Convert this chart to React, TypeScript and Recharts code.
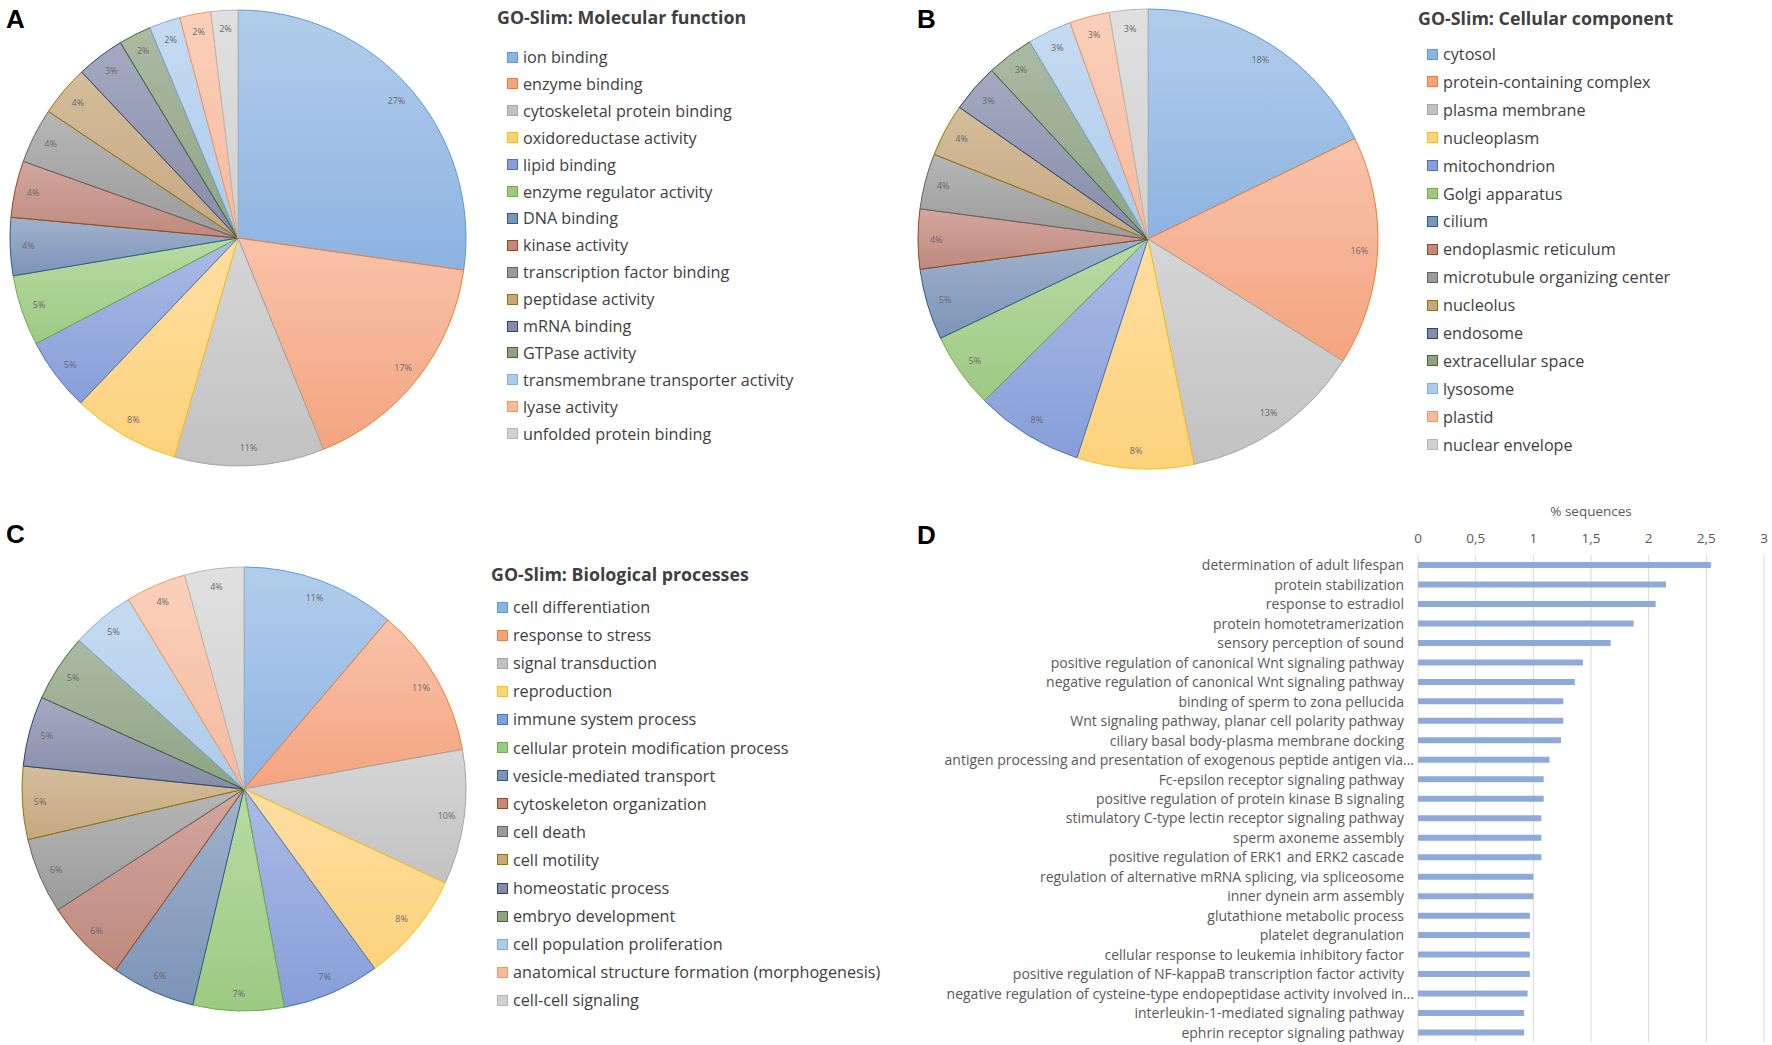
import { PieChart, Pie, Cell, Legend, BarChart, Bar, XAxis, YAxis, CartesianGrid } from 'recharts'

// GO-Slim categories (share of sequences, %)
const MF_TERMS = [
	'ion binding',
	'enzyme binding',
	'cytoskeletal protein binding',
	'oxidoreductase activity',
	'lipid binding',
	'enzyme regulator activity',
	'DNA binding',
	'kinase activity',
	'transcription factor binding',
	'peptidase activity',
	'mRNA binding',
	'GTPase activity',
	'transmembrane transporter activity',
	'lyase activity',
	'unfolded protein binding',
]
const MF_VALUES = [27.2, 16.6, 10.6, 7.6, 5.2, 5.0, 4.1, 4.0, 3.9, 3.6, 3.4, 2.3, 2.2, 2.2, 1.9]

const CC_TERMS = [
	'cytosol',
	'protein-containing complex',
	'plasma membrane',
	'nucleoplasm',
	'mitochondrion',
	'Golgi apparatus',
	'cilium',
	'endoplasmic reticulum',
	'microtubule organizing center',
	'nucleolus',
	'endosome',
	'extracellular space',
	'lysosome',
	'plastid',
	'nuclear envelope',
]
const CC_VALUES = [17.8, 16.1, 12.9, 8.2, 7.6, 5.3, 5.0, 4.2, 3.9, 3.7, 3.4, 3.3, 3.1, 2.8, 2.7]

const BP_TERMS = [
	'cell differentiation',
	'response to stress',
	'signal transduction',
	'reproduction',
	'immune system process',
	'cellular protein modification process',
	'vesicle-mediated transport',
	'cytoskeleton organization',
	'cell death',
	'cell motility',
	'homeostatic process',
	'embryo development',
	'cell population proliferation',
	'anatomical structure formation (morphogenesis)',
	'cell-cell signaling',
]
const BP_VALUES = [11.2, 10.9, 9.8, 8.0, 7.1, 6.6, 6.1, 6.0, 5.5, 5.3, 5.1, 4.9, 4.6, 4.4, 4.3]

const TOP_TERMS = [
	'determination of adult lifespan',
	'protein stabilization',
	'response to estradiol',
	'protein homotetramerization',
	'sensory perception of sound',
	'positive regulation of canonical Wnt signaling pathway',
	'negative regulation of canonical Wnt signaling pathway',
	'binding of sperm to zona pellucida',
	'Wnt signaling pathway, planar cell polarity pathway',
	'ciliary basal body-plasma membrane docking',
	'antigen processing and presentation of exogenous peptide antigen via…',
	'Fc-epsilon receptor signaling pathway',
	'positive regulation of protein kinase B signaling',
	'stimulatory C-type lectin receptor signaling pathway',
	'sperm axoneme assembly',
	'positive regulation of ERK1 and ERK2 cascade',
	'regulation of alternative mRNA splicing, via spliceosome',
	'inner dynein arm assembly',
	'glutathione metabolic process',
	'platelet degranulation',
	'cellular response to leukemia inhibitory factor',
	'positive regulation of NF-kappaB transcription factor activity',
	'negative regulation of cysteine-type endopeptidase activity involved in…',
	'interleukin-1-mediated signaling pathway',
	'ephrin receptor signaling pathway',
]
const TOP_PCT = [
	2.54, 2.15, 2.06, 1.87, 1.67, 1.43, 1.36, 1.26, 1.26, 1.24, 1.14, 1.09, 1.09, 1.07, 1.07, 1.07, 1.0, 1.0, 0.97,
	0.97, 0.97, 0.97, 0.95, 0.92, 0.92,
]
const PCT_TICKS = [0, 0.5, 1, 1.5, 2, 2.5, 3]

// office palette: [gradient top, gradient bottom, outline]
const PALETTE = [
	['#b2cdeb', '#8db3e2', '#5b9bd5'],
	['#f8c3ab', '#f4a47f', '#ed7d31'],
	['#d6d6d6', '#c2c2c2', '#a5a5a5'],
	['#fedfa2', '#fdd27c', '#ffc000'],
	['#aabbe6', '#879ed8', '#4472c4'],
	['#b8daa3', '#9dca82', '#70ad47'],
	['#a0b2cc', '#7d94b8', '#255e91'],
	['#d2a69e', '#bf8a7f', '#9e480e'],
	['#b6b6b6', '#9b9b9b', '#636363'],
	['#d4bd9a', '#c5a882', '#997300'],
	['#a5aac2', '#868ba8', '#264478'],
	['#acbaa3', '#8ea386', '#43682b'],
	['#c6dbf1', '#adcaeb', '#7cafdd'],
	['#fad0bb', '#f6ba9e', '#f1975a'],
	['#e0e0e0', '#d1d1d1', '#b7b7b7'],
]

const FONT = '"Open Sans", sans-serif'
const RADIAN = Math.PI / 180
const NO_MARGIN = { top: 0, right: 0, bottom: 0, left: 0 }

function pctLabel(props: any) {
	const { cx, cy, midAngle, outerRadius, percent } = props
	const r = outerRadius * 0.92
	const x = cx + r * Math.cos(-midAngle * RADIAN)
	const y = cy + r * Math.sin(-midAngle * RADIAN)
	return (
		<text x={x} y={y} textAnchor="middle" dominantBaseline="central" fontSize={9} fontFamily={FONT} fill="#6a6a6a">
			{Math.round(percent * 100)}%
		</text>
	)
}

function GoLegend({
	payload,
	terms,
	title,
	firstItem,
	gap,
	titleCenter,
	markerX,
}: {
	payload?: any[]
	terms: string[]
	title: string
	firstItem: number
	gap: number
	titleCenter: number
	markerX: number
}) {
	// legend payload comes back sorted by name, keep the data order instead
	const items = terms.map(t => (payload || []).find(p => p.value === t) || { value: t })
	return (
		<div style={{ position: 'relative', fontFamily: FONT, color: '#404040' }}>
			<div
				style={{
					position: 'absolute',
					left: 0,
					top: titleCenter - 12,
					lineHeight: '24px',
					fontSize: 17.8,
					fontWeight: 700,
					whiteSpace: 'nowrap',
				}}
			>
				{title}
			</div>
			{items.map((entry, i) => (
				<div
					key={i}
					style={{
						position: 'absolute',
						left: markerX,
						top: firstItem + i * gap - 11,
						height: 22,
						lineHeight: '22px',
						fontSize: 16.2,
						whiteSpace: 'nowrap',
						display: 'flex',
						alignItems: 'center',
					}}
				>
					<span
						style={{
							display: 'inline-block',
							width: 9,
							height: 9,
							marginRight: 5,
							background: PALETTE[i][1],
							border: `1px solid ${PALETTE[i][2]}`,
						}}
					/>
					{entry.value}
				</div>
			))}
		</div>
	)
}

function GoPie({
	id,
	terms,
	values,
	title,
	left,
	top,
	width,
	height,
	cx,
	cy,
	radius,
	legendLeft,
	titleCenter,
	firstItem,
	gap,
	markerX,
}: {
	id: string
	terms: string[]
	values: number[]
	title: string
	left: number
	top: number
	width: number
	height: number
	cx: number
	cy: number
	radius: number
	legendLeft: number
	titleCenter: number
	firstItem: number
	gap: number
	markerX: number
}) {
	const data = terms.map((name, i) => ({ name, value: values[i] }))
	return (
		<div style={{ position: 'absolute', left, top }}>
			<PieChart width={width} height={height} margin={NO_MARGIN}>
				<defs>
					{PALETTE.map((c, i) => (
						<linearGradient key={i} id={`${id}-${i}`} x1="0" y1="0" x2="0" y2="1">
							<stop offset="0%" stopColor={c[0]} />
							<stop offset="100%" stopColor={c[1]} />
						</linearGradient>
					))}
				</defs>
				<Pie
					data={data}
					dataKey="value"
					nameKey="name"
					cx={cx}
					cy={cy}
					outerRadius={radius}
					startAngle={90}
					endAngle={-270}
					label={pctLabel}
					labelLine={false}
					isAnimationActive={false}
				>
					{data.map((d, i) => (
						<Cell key={d.name} fill={`url(#${id}-${i})`} stroke={PALETTE[i][2]} strokeWidth={1} />
					))}
				</Pie>
				<Legend
					layout="vertical"
					align="right"
					verticalAlign="top"
					wrapperStyle={{ position: 'absolute', left: legendLeft, top: 0, width: width - legendLeft }}
					content={(props: any) => (
						<GoLegend
							payload={props.payload}
							terms={terms}
							title={title}
							titleCenter={titleCenter}
							firstItem={firstItem}
							gap={gap}
							markerX={markerX}
						/>
					)}
				/>
			</PieChart>
		</div>
	)
}

function TermTick(props: any) {
	const { x, y, payload } = props
	const cut = String(payload.value).endsWith('…')
	return (
		<text
			x={x - 6 + (cut ? 10 : 0)}
			y={y}
			textAnchor="end"
			dominantBaseline="central"
			fontSize={14}
			fontFamily={FONT}
			fill="#595959"
		>
			{payload.value}
		</text>
	)
}

function TopTerms() {
	const data = TOP_TERMS.map((name, i) => ({ name, value: TOP_PCT[i] }))
	return (
		<div style={{ position: 'absolute', left: 900, top: 500 }}>
			<BarChart
				width={872}
				height={545}
				data={data}
				layout="vertical"
				margin={{ top: 23, right: 8, bottom: 3, left: 0 }}
				barCategoryGap={6}
			>
				<CartesianGrid horizontal={false} stroke="#d9d9d9" />
				<XAxis
					type="number"
					orientation="top"
					domain={[0, 3]}
					ticks={PCT_TICKS}
					height={32}
					axisLine={false}
					tickLine={false}
					tickMargin={6}
					interval={0}
					tick={{ fontSize: 13.5, fontFamily: FONT, fill: '#595959' }}
					tickFormatter={v => String(v).replace('.', ',')}
					label={{
						value: '% sequences',
						position: 'top',
						offset: 7,
						style: { fontSize: 13.5, fontFamily: FONT, fill: '#595959' },
					}}
				/>
				<YAxis
					type="category"
					dataKey="name"
					width={518}
					axisLine={false}
					tickLine={false}
					interval={0}
					tick={<TermTick />}
				/>
				<Bar dataKey="value" fill="#8eaadb" barSize={6} isAnimationActive={false} />
			</BarChart>
		</div>
	)
}

const letter = (ch: string, left: number, top: number) => (
	<div
		style={{
			position: 'absolute',
			left,
			top,
			fontFamily: '"Liberation Sans", Arial, sans-serif',
			fontWeight: 700,
			fontSize: 26,
			lineHeight: '26px',
			color: '#000',
		}}
	>
		{ch}
	</div>
)

export default function App() {
	return (
		<div style={{ position: 'absolute', left: 0, top: 0, width: 1772, height: 1045, background: '#fff', overflow: 'hidden' }}>
			<GoPie
				id="mf"
				terms={MF_TERMS}
				values={MF_VALUES}
				title="GO-Slim: Molecular function"
				left={0}
				top={0}
				width={880}
				height={490}
				cx={238}
				cy={238}
				radius={228}
				legendLeft={497}
				titleCenter={17}
				firstItem={57}
				gap={26.9}
				markerX={10}
			/>
			<GoPie
				id="cc"
				terms={CC_TERMS}
				values={CC_VALUES}
				title="GO-Slim: Cellular component"
				left={900}
				top={0}
				width={872}
				height={490}
				cx={248}
				cy={239}
				radius={230}
				legendLeft={518}
				titleCenter={18}
				firstItem={54}
				gap={27.9}
				markerX={9}
			/>
			<GoPie
				id="bp"
				terms={BP_TERMS}
				values={BP_VALUES}
				title="GO-Slim: Biological processes"
				left={0}
				top={520}
				width={900}
				height={520}
				cx={244}
				cy={269}
				radius={222}
				legendLeft={491}
				titleCenter={54}
				firstItem={87}
				gap={28.1}
				markerX={6}
			/>
			<TopTerms />
			{letter('A', 6, 6)}
			{letter('B', 917, 6)}
			{letter('C', 6, 521)}
			{letter('D', 917, 522)}
		</div>
	)
}
